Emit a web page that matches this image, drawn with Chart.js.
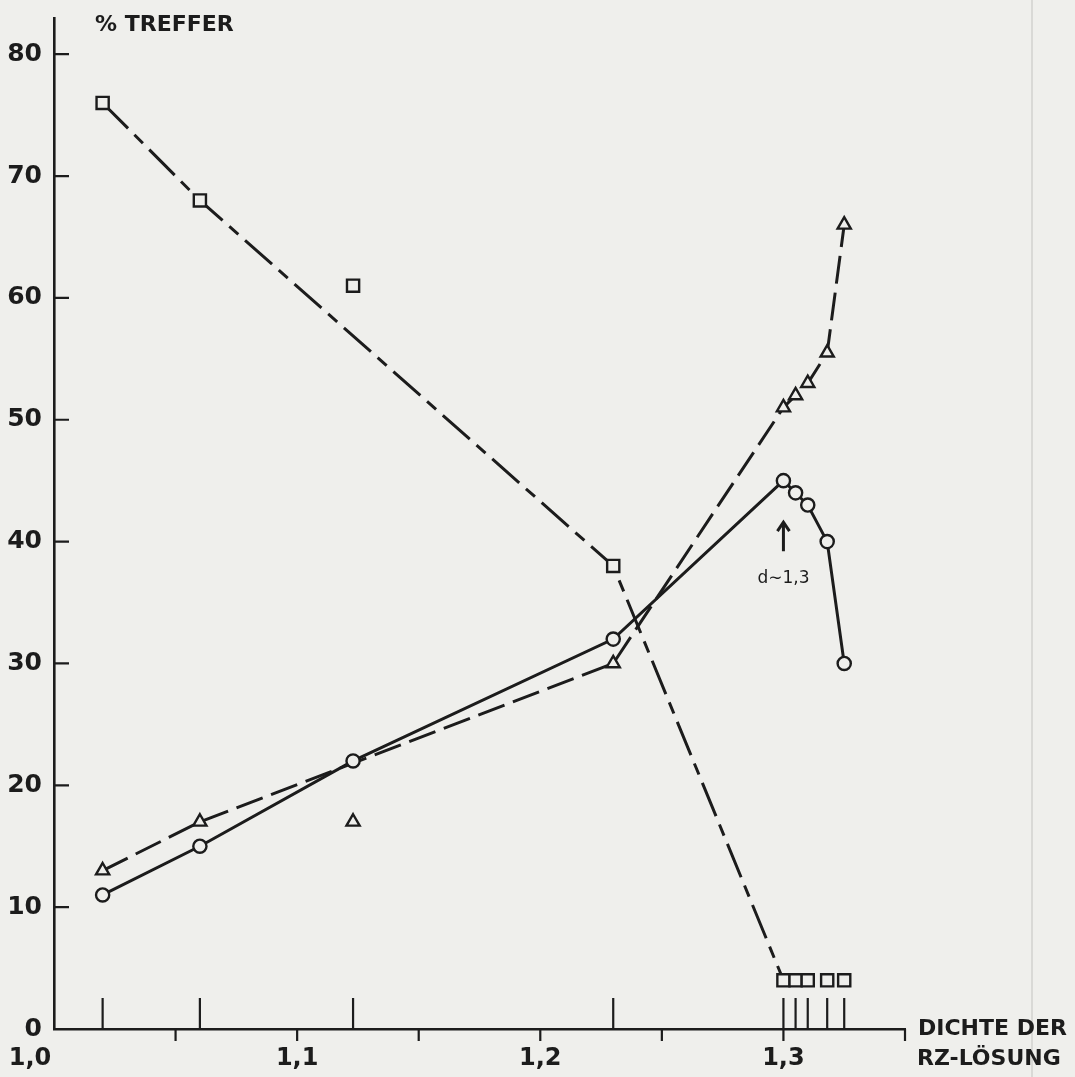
<!DOCTYPE html>
<html>
<head>
<meta charset="utf-8">
<script src="https://cdn.jsdelivr.net/npm/chart.js@4.4.1/dist/chart.umd.min.js"></script>
<style>
  html, body { margin: 0; padding: 0; background: #efefec; }
</style>
</head>
<body>
<canvas id="chart" width="1075" height="1077"></canvas>
<script>
// Dichte der RZ-Lösung vs. % Treffer
const densities = [1.02, 1.06, 1.123, 1.23, 1.300, 1.305, 1.310, 1.318, 1.325];
const circleHits = [11, 15, 22, 32, 45, 44, 43, 40, 30];
const triangleHits = [13, 17, 17, 30, 51, 52, 53, 55.5, 66];
const squareHits = [76, 68, 61, 38, 4, 4, 4, 4, 4];
// points the drawn curve actually runs through
const circleJoined = [1, 1, 1, 1, 1, 1, 1, 1, 1];
const triangleJoined = [1, 1, 0, 1, 1, 1, 1, 1, 1];
const squareJoined = [1, 1, 0, 1, 1, 0, 0, 0, 0];

const yTicks = [0, 10, 20, 30, 40, 50, 60, 70, 80];
const xMinor = [1.05, 1.10, 1.15, 1.20, 1.25, 1.30, 1.35];
const xLabels = [1.0, 1.1, 1.2, 1.3];
const yTitle = '% TREFFER';
const xTitle = ['DICHTE DER', 'RZ-LÖSUNG'];
const note = 'd∼1,3';
const noteAt = 1.3;

const ink = '#1c1c1c';
const paper = '#efefec';
const font = '"DejaVu Sans", sans-serif';

const pts = (ys, mask) => densities
    .map((x, i) => ({ x, y: ys[i] }))
    .filter((p, i) => !mask || mask[i]);

const marker = (ys, style, r) => ({
    data: pts(ys),
    showLine: false,
    pointStyle: style,
    pointRadius: r,
    pointBorderWidth: 2.4,
    pointBorderColor: ink,
    pointBackgroundColor: paper
});

const curve = (ys, mask, dash) => ({
    data: pts(ys, mask),
    showLine: true,
    borderColor: ink,
    borderWidth: 3,
    borderDash: dash,
    pointRadius: 0,
    tension: 0
});

// paper, hand drawn ticks, titles, arrow
const drawing = {
    id: 'drawing',
    beforeDraw(chart) {
        const { ctx, width, height } = chart;
        ctx.save();
        ctx.fillStyle = paper;
        ctx.fillRect(0, 0, width, height);
        ctx.strokeStyle = 'rgba(0,0,0,0.12)';
        ctx.lineWidth = 1.5;
        ctx.beginPath();
        ctx.moveTo(1032, 0);
        ctx.lineTo(1032, height);
        ctx.stroke();
        ctx.restore();
    },
    beforeDatasetsDraw(chart) {
        const { ctx, chartArea: { left, bottom }, scales: { x, y } } = chart;
        ctx.save();
        ctx.strokeStyle = ink;
        ctx.lineWidth = 2.2;
        ctx.beginPath();
        yTicks.filter(v => v > 0).forEach(v => {
            const py = y.getPixelForValue(v);
            ctx.moveTo(left, py);
            ctx.lineTo(left + 15, py);
        });
        xMinor.forEach(v => {
            const px = x.getPixelForValue(v);
            ctx.moveTo(px, bottom);
            ctx.lineTo(px, bottom + 12);
        });
        densities.forEach(v => {
            const px = x.getPixelForValue(v);
            ctx.moveTo(px, bottom);
            ctx.lineTo(px, bottom - 31);
        });
        ctx.stroke();

        ctx.fillStyle = ink;
        ctx.font = `bold 24px ${font}`;
        ctx.textBaseline = 'middle';
        ctx.textAlign = 'center';
        xLabels.forEach((v, i) => {
            const px = x.getPixelForValue(v) - (i === 0 ? 24 : 0);
            ctx.fillText(v.toFixed(1).replace('.', ','), px, bottom + 30);
        });

        ctx.font = `bold 22px ${font}`;
        ctx.textAlign = 'left';
        ctx.fillText(yTitle, 95, 25);
        ctx.fillText(xTitle[0], x.right + 13, bottom);
        ctx.fillText(xTitle[1], x.right + 12, bottom + 30);

        // arrow marking d ~ 1,3
        const ax = x.getPixelForValue(noteAt);
        const tail = y.getPixelForValue(39.2);
        const head = y.getPixelForValue(41.6);
        ctx.lineWidth = 3;
        ctx.beginPath();
        ctx.moveTo(ax, tail);
        ctx.lineTo(ax, head + 2);
        ctx.moveTo(ax - 6, head + 9);
        ctx.lineTo(ax, head);
        ctx.lineTo(ax + 6, head + 9);
        ctx.stroke();
        ctx.font = `17px ${font}`;
        ctx.textAlign = 'center';
        ctx.fillText(note, ax, y.getPixelForValue(37));
        ctx.restore();
    }
};

new Chart(document.getElementById('chart'), {
    type: 'scatter',
    data: {
        datasets: [
            marker(squareHits, 'rect', 8.6),
            marker(triangleHits, 'triangle', 7.6),
            marker(circleHits, 'circle', 6.6),
            curve(squareHits, squareJoined, [36, 9, 12, 9]),
            curve(triangleHits, triangleJoined, [28, 9]),
            curve(circleHits, circleJoined, [])
        ]
    },
    options: {
        responsive: false,
        animation: false,
        layout: { padding: { top: 14, right: 170, bottom: 0, left: 0 } },
        plugins: { legend: { display: false }, tooltip: { enabled: false } },
        scales: {
            x: {
                type: 'linear',
                min: 1.0,
                max: 1.35,
                grid: { display: false, drawTicks: false },
                border: { display: true, color: ink, width: 2.6 },
                ticks: { display: false },
                afterBuildTicks: s => { s.ticks = xMinor.map(v => ({ value: v })); },
                afterFit: s => { s.height = 48; }
            },
            y: {
                min: 0,
                max: 82.95,
                grid: { display: false, drawTicks: false },
                border: { display: true, color: ink, width: 2.6 },
                ticks: {
                    color: ink,
                    padding: 12,
                    font: { family: font, size: 25, weight: 'bold', lineHeight: 0.5 }
                },
                afterBuildTicks: s => { s.ticks = yTicks.map(v => ({ value: v })); },
                afterFit: s => { s.width = 54; }
            }
        }
    },
    plugins: [drawing]
});
</script>
</body>
</html>
